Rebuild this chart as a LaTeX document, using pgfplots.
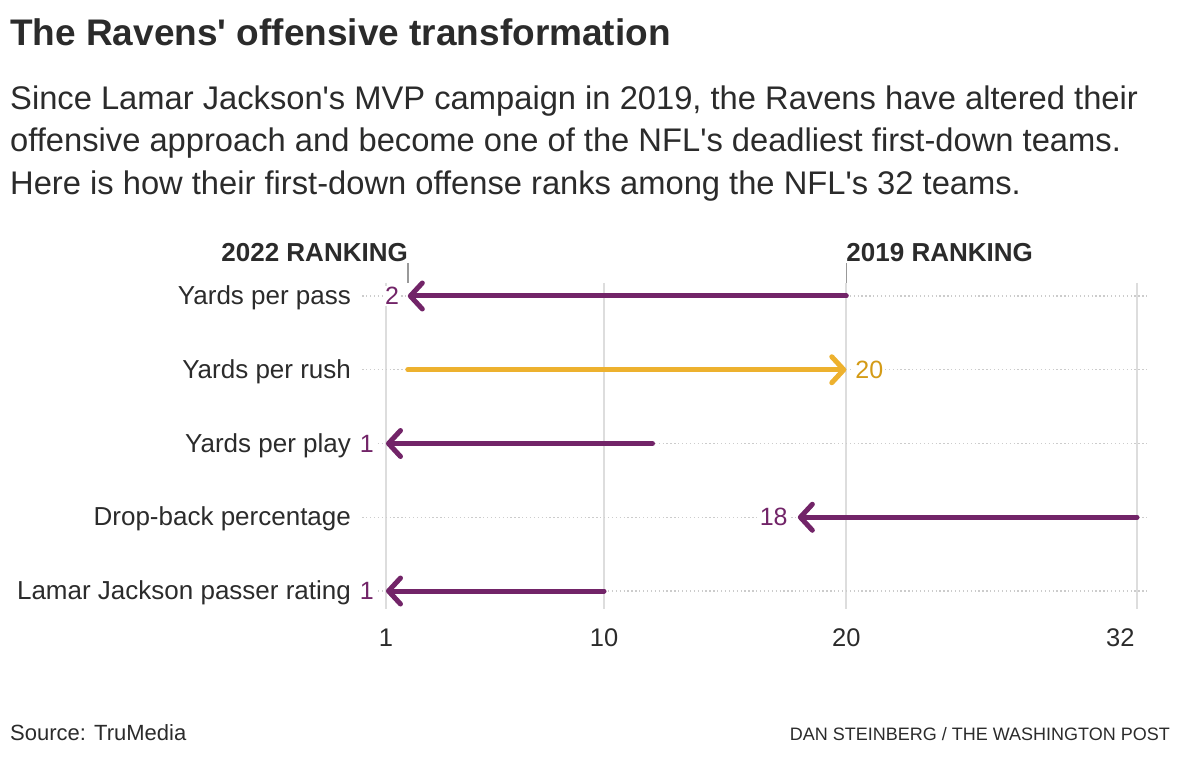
\documentclass[border=0pt]{standalone}
\usepackage{fontspec}
\setmainfont{Liberation Sans}
\usepackage{pgfplots}
\pgfplotsset{compat=1.18}
\usetikzlibrary{arrows.meta}
\definecolor{ravpurple}{HTML}{722468}
\definecolor{ravgold}{HTML}{EDB12E}
\definecolor{goldtext}{HTML}{D49B16}
\definecolor{inktext}{HTML}{2B2B2B}
\definecolor{gridgray}{HTML}{DDDDDD}
\definecolor{dotgray}{HTML}{CCCCCC}
\definecolor{tickgray}{HTML}{999999}

\begin{document}
\begin{tikzpicture}
\path[use as bounding box] (0pt,0pt) rectangle (1180pt,758pt);

% headline and dek
\node[anchor=base west, inner sep=0, text=inktext, font=\bfseries\fontsize{37}{40}\selectfont] at (10pt,712pt) {The Ravens\textquotesingle{} offensive transformation};
\node[anchor=base west, inner sep=0, text=inktext, font=\fontsize{32.7}{36}\selectfont] at (10pt,648pt) {Since Lamar Jackson\textquotesingle s MVP campaign in 2019, the Ravens have altered their};
\node[anchor=base west, inner sep=0, text=inktext, font=\fontsize{32.7}{36}\selectfont] at (10pt,606pt) {offensive approach and become one of the NFL\textquotesingle s deadliest first-down teams.};
\node[anchor=base west, inner sep=0, text=inktext, font=\fontsize{32.7}{36}\selectfont] at (10pt,563pt) {Here is how their first-down offense ranks among the NFL\textquotesingle s 32 teams.};

% footer
\node[anchor=base west, inner sep=0, text=inktext, font=\fontsize{22}{24}\selectfont] at (10pt,18pt) {Source: TruMedia};
\node[anchor=base east, inner sep=0, text=inktext, font=\fontsize{18}{20}\selectfont] at (1170pt,18pt) {DAN STEINBERG / THE WASHINGTON POST};

\begin{axis}[
  at={(386pt,149.3pt)}, anchor=south west,
  scale only axis,
  width=751pt, height=325.975pt,
  xmin=1, xmax=32,
  ymin=-0.18, ymax=4.24,
  y dir=reverse,
  axis line style={draw=none},
  major tick length=0pt,
  xtick={1,10,20},
  xticklabels={1,10,20},
  extra x ticks={32},
  extra x tick labels={32},
  extra x tick style={xticklabel style={anchor=base east, xshift=1pt}},
  xmajorgrids,
  major grid style={gridgray, line width=2pt},
  xticklabel style={anchor=base, yshift=-38pt, text=inktext, font=\fontsize{25.5}{28}\selectfont},
  ytick=\empty,
  clip=false,
]

% row guides
\foreach \r in {0,...,4} {
  \edef\temp{\noexpand\draw[dotgray, line width=1.3pt, dash pattern=on 1.3pt off 2.6pt] (axis cs:0.02,\r) -- (axis cs:32.45,\r);}
  \temp
}

% column headers
\draw[tickgray, line width=1.2pt] (axis cs:1.91,-0.18) -- ([yshift=20pt]axis cs:1.91,-0.18);
\draw[tickgray, line width=1.2pt] (axis cs:20,-0.18) -- ([yshift=20pt]axis cs:20,-0.18);
\node[anchor=base east, inner sep=0, text=inktext, font=\bfseries\fontsize{26}{28}\selectfont] at ([yshift=21pt]axis cs:1.91,-0.18) {2022 RANKING};
\node[anchor=base west, inner sep=0, text=inktext, font=\bfseries\fontsize{26}{28}\selectfont] at ([yshift=21pt]axis cs:20,-0.18) {2019 RANKING};

% row labels
\foreach \r/\lab in {0/Yards per pass, 1/Yards per rush, 2/Yards per play, 3/Drop-back percentage, 4/Lamar Jackson passer rating} {
  \edef\temp{\noexpand\node[anchor=east, inner sep=0, text=inktext, font=\noexpand\fontsize{26}{28}\noexpand\selectfont] at ([yshift=-2pt]axis cs:-0.44,\r) {\lab};}
  \temp
}

% arrows: 2019 rank -> 2022 rank
\addplot[ravpurple, line width=5pt, line cap=round, -{Straight Barb[length=12pt, width=26pt, round]}] coordinates {(20,0) (1.9,0)};
\addplot[ravgold, line width=5pt, line cap=round, -{Straight Barb[length=12pt, width=26pt, round]}] coordinates {(1.9,1) (20,1)};
\addplot[ravpurple, line width=5pt, line cap=round, -{Straight Barb[length=12pt, width=26pt, round]}] coordinates {(12,2) (1,2)};
\addplot[ravpurple, line width=5pt, line cap=round, -{Straight Barb[length=12pt, width=26pt, round]}] coordinates {(32,3) (18,3)};
\addplot[ravpurple, line width=5pt, line cap=round, -{Straight Barb[length=12pt, width=26pt, round]}] coordinates {(10,4) (1,4)};

% value labels
\node[anchor=east, fill=white, inner sep=1pt, text=ravpurple, font=\fontsize{25}{26}\selectfont] at ([xshift=-10pt]axis cs:2,0) {2};
\node[anchor=west, fill=white, inner sep=1pt, text=goldtext, font=\fontsize{25}{26}\selectfont] at ([xshift=8pt]axis cs:20,1) {20};
\node[anchor=east, fill=white, inner sep=1pt, text=ravpurple, font=\fontsize{25}{26}\selectfont] at ([xshift=-11pt]axis cs:1,2) {1};
\node[anchor=east, fill=white, inner sep=1pt, text=ravpurple, font=\fontsize{25}{26}\selectfont] at ([xshift=-9pt]axis cs:18,3) {18};
\node[anchor=east, fill=white, inner sep=1pt, text=ravpurple, font=\fontsize{25}{26}\selectfont] at ([xshift=-11pt]axis cs:1,4) {1};

\end{axis}
\end{tikzpicture}
\end{document}
